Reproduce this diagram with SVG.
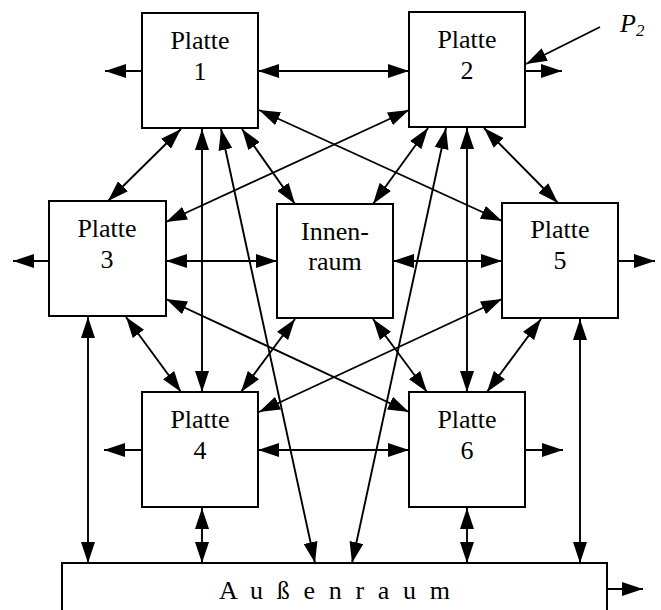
<svg xmlns="http://www.w3.org/2000/svg" width="661" height="610" viewBox="0 0 661 610">
<style>
.box{fill:#fff;stroke:#000;stroke-width:2}
.t{font-family:"Liberation Serif","Times New Roman",serif;font-size:26px;fill:#000;text-anchor:middle}
.c line{stroke:#000;stroke-width:1.9;fill:none}
.s{marker-end:url(#ah)}
.d{marker-start:url(#ah);marker-end:url(#ah)}
</style>
<defs>
<marker id="ah" markerUnits="userSpaceOnUse" markerWidth="21" markerHeight="14" refX="21" refY="7" orient="auto-start-reverse" viewBox="0 0 21 14">
<path d="M0,0 L21,7 L0,14 z" fill="#000"/>
</marker>
</defs>
<rect width="661" height="610" fill="#fff"/>
<g id="connectors" class="c">
<line class="s" x1="142" y1="71" x2="105" y2="71"/>
<line class="s" x1="525" y1="71" x2="562" y2="71"/>
<line class="s" x1="600" y1="27" x2="526" y2="64"/>
<line class="s" x1="49" y1="261" x2="13" y2="261"/>
<line class="s" x1="618" y1="261" x2="655" y2="261"/>
<line class="s" x1="142" y1="450" x2="104" y2="450"/>
<line class="s" x1="525" y1="450" x2="563" y2="450"/>
<line class="s" x1="607" y1="589" x2="643" y2="589"/>
<line class="d" x1="258" y1="71" x2="409" y2="71"/>
<line class="d" x1="166" y1="261" x2="277" y2="261"/>
<line class="d" x1="393" y1="261" x2="502" y2="261"/>
<line class="d" x1="258" y1="450" x2="409" y2="450"/>
<line class="d" x1="88" y1="317" x2="88" y2="563"/>
<line class="d" x1="580" y1="319" x2="580" y2="563"/>
<line class="d" x1="202" y1="508" x2="202" y2="563"/>
<line class="d" x1="467" y1="508" x2="467" y2="563"/>
<line class="d" x1="202" y1="129" x2="202" y2="392"/>
<line class="d" x1="467" y1="128" x2="467" y2="392"/>
<line class="d" x1="181" y1="129" x2="108" y2="201"/>
<line class="d" x1="242" y1="129" x2="295" y2="204"/>
<line class="d" x1="221" y1="129" x2="315" y2="563"/>
<line class="d" x1="446" y1="128" x2="352" y2="563"/>
<line class="d" x1="259" y1="110" x2="502" y2="221"/>
<line class="d" x1="409" y1="110" x2="166" y2="222"/>
<line class="d" x1="428" y1="128" x2="373" y2="204"/>
<line class="d" x1="484" y1="128" x2="558" y2="203"/>
<line class="d" x1="126" y1="317" x2="181" y2="392"/>
<line class="d" x1="166" y1="299" x2="409" y2="412"/>
<line class="d" x1="295" y1="319" x2="241" y2="392"/>
<line class="d" x1="373" y1="319" x2="427" y2="392"/>
<line class="d" x1="502" y1="299" x2="259" y2="412"/>
<line class="d" x1="541" y1="319" x2="487" y2="392"/>
</g>
<g id="platte1"><rect class="box" x="142" y="13" width="116" height="115"/><text class="t" x="200" y="49">Platte</text><text class="t" x="200" y="80">1</text></g>
<g id="platte2"><rect class="box" x="409" y="12" width="116" height="115"/><text class="t" x="467" y="48">Platte</text><text class="t" x="467" y="79">2</text></g>
<g id="platte3"><rect class="box" x="49" y="201" width="117" height="115"/><text class="t" x="107" y="237">Platte</text><text class="t" x="107" y="268">3</text></g>
<g id="innenraum"><rect class="box" x="277" y="204" width="116" height="114"/><text class="t" x="335" y="240">Innen-</text><text class="t" x="335" y="270">raum</text></g>
<g id="platte5"><rect class="box" x="502" y="203" width="116" height="115"/><text class="t" x="560" y="238">Platte</text><text class="t" x="560" y="269">5</text></g>
<g id="platte4"><rect class="box" x="142" y="392" width="116" height="115"/><text class="t" x="200" y="428">Platte</text><text class="t" x="200" y="459">4</text></g>
<g id="platte6"><rect class="box" x="409" y="392" width="116" height="115"/><text class="t" x="467" y="428">Platte</text><text class="t" x="467" y="459">6</text></g>
<g id="aussenraum"><rect class="box" x="62" y="563" width="545" height="60"/><text class="t" x="219" y="599" style="text-anchor:start" textLength="231" lengthAdjust="spacing">A u ß e n r a u m</text></g>
<g id="p2label"><text x="620" y="32" style="font-family:'Liberation Serif','Times New Roman',serif;font-size:26px;font-style:italic">P<tspan font-size="17" dy="4">2</tspan></text></g>
</svg>
